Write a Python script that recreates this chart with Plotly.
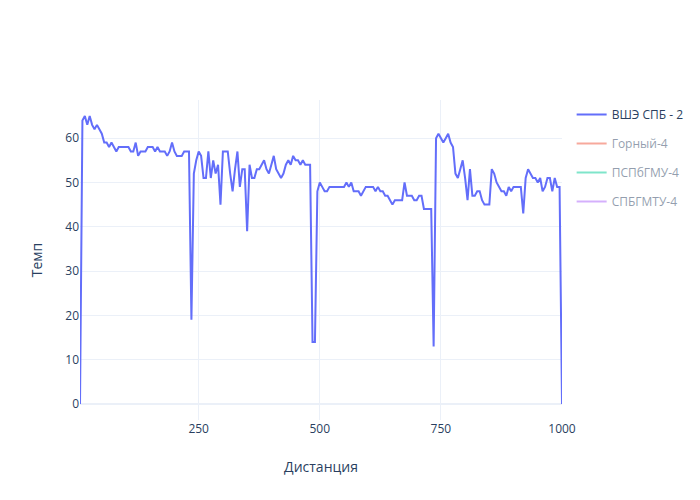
import plotly.graph_objects as go

# Distance values (metres) and pace for the visible crew
distance = list(range(5, 1001, 5))
pace_hse = [
    0, 64, 65, 63, 65, 63, 62, 63, 62, 61,
    59, 59, 58, 59, 58, 57, 58, 58, 58, 58,
    58, 57, 57, 59, 56, 57, 57, 57, 58, 58,
    58, 57, 58, 57, 57, 57, 56, 57, 59, 57,
    56, 56, 56, 57, 57, 57, 19,
    52, 55, 57, 56, 51, 51, 57, 51, 55, 52, 54, 45, 57, 57, 57, 52, 48, 53, 57,
    49, 53, 53, 39, 54, 51, 51, 53, 53, 54, 55, 53, 52, 54, 56, 53, 52, 51, 52, 54,
    55, 54, 56, 55, 55, 54, 55, 54, 54, 54,
    14, 14, 48, 50, 49, 48, 48, 49, 49, 49, 49, 49, 49, 49, 50, 49, 50, 48,
    48, 48, 47, 48, 49, 49, 49, 49, 48, 49, 48, 48, 47, 47, 46, 45, 46, 46, 46, 46,
    50, 47, 47, 47, 46, 46, 47, 47, 44, 44, 44, 44,
    13, 60, 61, 60, 59, 60, 61, 59, 58, 52, 51, 53, 55, 51, 46, 53, 47, 47, 48, 48,
    46, 45, 45, 45, 53, 52, 50, 49, 48, 48, 47, 49, 48, 49, 49, 49, 49, 43, 51, 53,
    52, 51, 51, 50, 51, 48, 49, 51, 51, 48, 51, 49, 49, 0,
]

# Crews hidden in the legend (no visible data in the reference)
hidden_names = ["Горный-4", "ПСПбГМУ-4", "СПБГМТУ-4"]

fig = go.Figure()
fig.add_trace(go.Scatter(x=distance, y=pace_hse, mode="lines", name="ВШЭ СПБ - 2",
                         legendgroup="ВШЭ СПБ - 2"))
for name in hidden_names:
    fig.add_trace(go.Scatter(x=[None], y=[None], mode="lines", name=name,
                             legendgroup=name, visible="legendonly", showlegend=True))

fig.update_layout(
    template="plotly_white",
    width=700,
    height=500,
    showlegend=True,
    margin=dict(l=72, r=146, t=92, b=88),
    xaxis=dict(title=dict(text="Дистанция", standoff=26), dtick=250),
    yaxis=dict(title=dict(text="Темп", standoff=19)),
)

fig.write_html("out.html")
